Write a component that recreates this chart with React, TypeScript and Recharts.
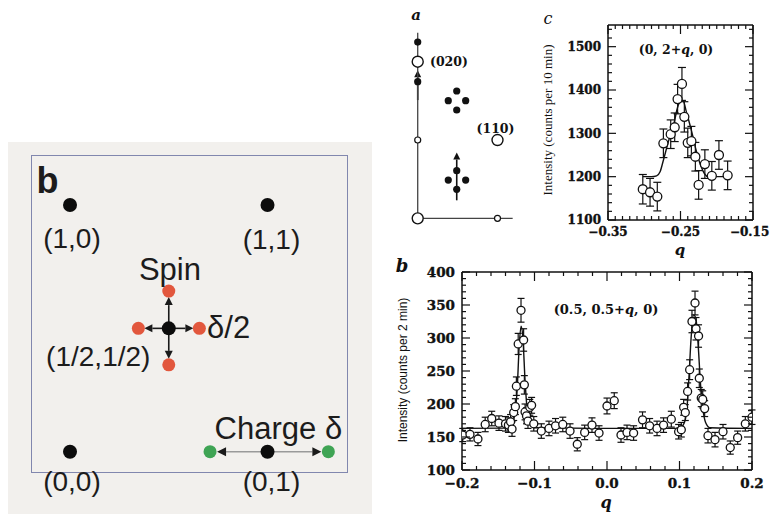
import React from "react";
import {
  ComposedChart,
  ScatterChart,
  Scatter,
  Line,
  XAxis,
  YAxis,
  ErrorBar,
  ReferenceLine,
} from "recharts";

// ---------- scan (0.5, 0.5+q, 0): counts per 2 min ----------
const bQ = [
  -0.199, -0.189, -0.178, -0.168, -0.159, -0.149, -0.14, -0.136, -0.133, -0.131, -0.1287, -0.1264,
  -0.125, -0.1225, -0.1186, -0.115, -0.114, -0.113, -0.111, -0.109, -0.1065, -0.104, -0.101, -0.0906,
  -0.08, -0.071, -0.061, -0.051, -0.041, -0.0308, -0.0207, -0.011, 0.0, 0.01, 0.0193, 0.0276, 0.0367,
  0.049, 0.0588, 0.069, 0.078, 0.0887, 0.0988, 0.1025, 0.1057, 0.108, 0.1112, 0.114, 0.1172, 0.1214,
  0.1228, 0.1263, 0.1273, 0.13, 0.132, 0.1347, 0.1393, 0.149, 0.16, 0.17, 0.1802, 0.1908, 0.2,
];
const bCounts = [
  153, 154, 147, 169, 178, 171, 170, 168, 173, 162, 187, 196, 227, 291, 342, 297, 229, 188, 182, 174,
  195, 198, 170, 159, 163, 167, 169, 159, 139, 157, 168, 156, 197, 205, 153, 157, 156, 176, 167, 163,
  168, 177, 158, 161, 195, 187, 219, 252, 325, 353, 314, 303, 239, 209, 207, 193, 152, 146, 158, 134,
  149, 170, 180,
];
const bErr = [
  10, 10, 10, 11, 11, 11, 11, 11, 11, 11, 12, 12, 14, 16, 18, 17, 14, 12, 12, 11, 12, 12, 11, 11, 11,
  11, 11, 11, 10, 11, 11, 11, 12, 12, 11, 11, 11, 12, 11, 11, 11, 12, 11, 11, 12, 12, 13, 15, 17, 18,
  17, 17, 14, 13, 13, 12, 11, 11, 11, 10, 10, 11, 11,
];
const bFitQ = [
  -0.2, -0.14, -0.133, -0.128, -0.124, -0.121, -0.1185, -0.116, -0.113, -0.11, -0.106, -0.1, 0, 0.1,
  0.106, 0.11, 0.113, 0.116, 0.1195, 0.1225, 0.126, 0.129, 0.132, 0.136, 0.142, 0.2,
];
const bFitCounts = [
  163, 163.5, 166, 180, 220, 290, 318, 300, 235, 190, 170, 164, 163, 163, 170, 190, 240, 300, 335, 330,
  285, 230, 195, 172, 164, 163,
];
const bXMajor = [-0.2, -0.1, 0, 0.1, 0.2];
const bXLabels = ["−0.2", "−0.1", "0.0", "0.1", "0.2"];
const bYMajor = [100, 150, 200, 250, 300, 350, 400];
const bYLabels = ["100", "150", "200", "250", "300", "350", "400"];

// ---------- scan (0, 2+q, 0): counts per 10 min ----------
const cQ = [
  -0.302, -0.292, -0.282, -0.2736, -0.2635, -0.258, -0.254, -0.248, -0.2447, -0.24, -0.235, -0.2295,
  -0.225, -0.2164, -0.2068, -0.197, -0.185,
];
const cCounts = [1171, 1164, 1154, 1277, 1298, 1314, 1379, 1414, 1338, 1278, 1282, 1246, 1181, 1229, 1202, 1250, 1203];
const cErr = [34, 32, 33, 33, 33, 33, 34, 38, 35, 34, 34, 33, 33, 33, 33, 33, 33];
const cFitQ = [
  -0.302, -0.29, -0.283, -0.278, -0.2736, -0.266, -0.259, -0.254, -0.249, -0.246, -0.242, -0.2347,
  -0.228, -0.222, -0.217, -0.212, -0.185,
];
const cFitCounts = [1200, 1200, 1202, 1212, 1238, 1285, 1323, 1360, 1376, 1374, 1350, 1305, 1258, 1225, 1207, 1200, 1200];
const cXMajor = [-0.35, -0.25, -0.15];
const cXLabels = ["−0.35", "−0.25", "−0.15"];
const cYMajor = [1100, 1200, 1300, 1400, 1500];
const cYLabels = ["1100", "1200", "1300", "1400", "1500"];

// ---------- reciprocal-space sketch (h to the right, k upward) ----------
const aAxisH = [0, 0, 1.19];
const aAxisK = [2.37, 0, 0];
const aBraggH = [0, 0, 1];
const aBraggK = [0, 2, 1];
const aSmallH = [0, 1];
const aSmallK = [1, 0];
const aSpotH = [0, 0, 0.489, 0.383, 0.601, 0.489, 0.489, 0.383, 0.601, 0.489];
const aSpotK = [2.25, 1.745, 1.626, 1.502, 1.502, 1.383, 0.608, 0.489, 0.489, 0.37];
const aArrows = [
  [0, 1.51, 0, 1.89],
  [0.489, 0.23, 0.489, 0.84],
];
const aNoteText = ["a", "(020)", "(110)"];
const aNoteH = [-0.02, 0.154, 0.975];
const aNoteK = [2.596, 2.0, 1.153];

// ---------- spin / charge superlattice sketch ----------
const latX = [0, 1, 0.5, 0, 1];
const latY = [1, 1, 0.5, 0, 0];
const spinX = [0.5, 0.5, 0.346, 0.655];
const spinY = [0.651, 0.352, 0.5, 0.5];
const chargeX = [0.709, 1.308];
const chargeY = [0, 0];
const noteText = ["b", "(1,0)", "(1,1)", "Spin", "δ/2", "(1/2,1/2)", "Charge δ", "(0,0)", "(0,1)"];
const noteX = [-0.114, 0.01, 1.02, 0.506, 0.694, 0.143, 1.055, 0.01, 1.02];
const noteY = [1.101, 0.866, 0.86, 0.737, 0.503, 0.385, 0.095, -0.122, -0.122];

const steps = (from: number, to: number, step: number) => {
  const out: number[] = [];
  const n = Math.round((to - from) / step);
  for (let i = 0; i <= n; i++) out.push(+(from + i * step).toFixed(4));
  return out;
};

const SERIF = '"DejaVu Serif", "Liberation Serif", serif';
const SANS = '"Liberation Sans", Arial, sans-serif';
const INK = "#111";
const AXIS_LINE = { stroke: INK, strokeWidth: 1.5 };

type Side = "bottom" | "top" | "left" | "right";

// tick drawn inward from the frame, label outside (bottom / left only);
// bottom labels are nudged left so they never run past maxX
function makeTick(
  side: Side,
  majors: number[],
  labels: string[] | null,
  majorLen: number,
  minorLen: number,
  fontSize: number,
  maxX = Infinity
) {
  return (props: any) => {
    const { x, y, payload } = props;
    const v = payload?.value as number;
    const idx = majors.findIndex((m) => Math.abs(m - v) < 1e-6);
    const len = idx >= 0 ? majorLen : minorLen;
    const x2 = side === "left" ? x + len : side === "right" ? x - len : x;
    const y2 = side === "bottom" ? y - len : side === "top" ? y + len : y;
    let label = null;
    if (labels && idx >= 0) {
      const style = { fontFamily: SERIF, fontWeight: 700, fontSize };
      if (side === "bottom") {
        const half = labels[idx].length * fontSize * 0.34;
        const lx = Math.min(x, maxX - half);
        label = (
          <text x={lx} y={y + fontSize + 4} textAnchor="middle" fill={INK} stroke={INK} strokeWidth={0.35} style={style}>
            {labels[idx]}
          </text>
        );
      }
      if (side === "left")
        label = (
          <text x={x - 7} y={y + fontSize * 0.36} textAnchor="end" fill={INK} stroke={INK} strokeWidth={0.35} style={style}>
            {labels[idx]}
          </text>
        );
    }
    return (
      <g>
        <line x1={x} y1={y} x2={x2} y2={y2} stroke={INK} strokeWidth={1.2} />
        {label}
      </g>
    );
  };
}

type Box = { top: number; right: number; bottom: number; left: number };

type ScanProps = {
  left: number;
  top: number;
  width: number;
  height: number;
  plot: Box; // distance from the chart edges to the frame
  xDomain: [number, number];
  yDomain: [number, number];
  xTicks: number[];
  yTicks: number[];
  xMajor: number[];
  xLabels: string[];
  yMajor: number[];
  yLabels: string[];
  points: { q: number; v: number; err: number }[];
  fit: { q: number; v: number }[];
  r: number;
  cap: number;
  font: number;
};

const AX_B = 30;
const AX_L = 60;
const AX_T = 6;
const AX_R = 6;

function ScanPanel(p: ScanProps) {
  const margin = {
    top: p.plot.top - AX_T,
    right: p.plot.right - AX_R,
    bottom: p.plot.bottom - AX_B,
    left: p.plot.left - AX_L,
  };
  const common = {
    type: "number" as const,
    allowDataOverflow: true,
    interval: 0 as const,
    tickSize: 0,
    tickMargin: 0,
    axisLine: AXIS_LINE,
    tickLine: false,
  };
  return (
    <div style={{ position: "absolute", left: p.left, top: p.top }}>
      <ComposedChart width={p.width} height={p.height} margin={margin}>
        <XAxis
          {...common}
          xAxisId="bottom"
          dataKey="q"
          domain={p.xDomain}
          ticks={p.xTicks}
          height={AX_B}
          tick={makeTick("bottom", p.xMajor, p.xLabels, 9, 4, p.font, p.width - 1)}
        />
        <XAxis
          {...common}
          xAxisId="top"
          orientation="top"
          dataKey="q"
          domain={p.xDomain}
          ticks={p.xTicks}
          height={AX_T}
          tick={makeTick("top", p.xMajor, null, 9, 4, p.font)}
        />
        <YAxis
          {...common}
          yAxisId="left"
          dataKey="v"
          domain={p.yDomain}
          ticks={p.yTicks}
          width={AX_L}
          tick={makeTick("left", p.yMajor, p.yLabels, 8, 4, p.font)}
        />
        <YAxis
          {...common}
          yAxisId="right"
          orientation="right"
          dataKey="v"
          domain={p.yDomain}
          ticks={p.yTicks}
          width={AX_R}
          tick={makeTick("right", p.yMajor, null, 8, 4, p.font)}
        />
        <Scatter
          xAxisId="bottom"
          yAxisId="left"
          data={p.points}
          dataKey="v"
          isAnimationActive={false}
          shape={(s: any) => <circle cx={s.cx} cy={s.cy} r={p.r} fill="#fff" stroke={INK} strokeWidth={1.3} />}
        >
          <ErrorBar dataKey="err" direction="y" width={p.cap} stroke={INK} strokeWidth={1.2} />
        </Scatter>
        <Line
          xAxisId="bottom"
          yAxisId="left"
          data={p.fit}
          dataKey="v"
          type="monotone"
          dot={false}
          activeDot={false}
          stroke={INK}
          strokeWidth={1.4}
          isAnimationActive={false}
        />
      </ComposedChart>
    </div>
  );
}

// arrow drawn along a ReferenceLine segment, trimmed at both ends
const arrowShape = (lineColor: string, headColor: string, head: number, trimStart: number, trimEnd: number) => (s: any) => {
  const { x1, y1, x2, y2 } = s;
  const dx = x2 - x1;
  const dy = y2 - y1;
  const L = Math.hypot(dx, dy) || 1;
  const ux = dx / L;
  const uy = dy / L;
  const sx = x1 + ux * trimStart;
  const sy = y1 + uy * trimStart;
  const tx = x2 - ux * trimEnd;
  const ty = y2 - uy * trimEnd;
  const bx = tx - ux * head;
  const by = ty - uy * head;
  const w = head * 0.5;
  return (
    <g>
      <line x1={sx} y1={sy} x2={bx} y2={by} stroke={lineColor} strokeWidth={1.6} />
      <polygon points={`${tx},${ty} ${bx - uy * w},${by + ux * w} ${bx + uy * w},${by - ux * w}`} fill={headColor} />
    </g>
  );
};

const Txt = ({ x, y, children, style, rotate }: { x: number; y: number; children: React.ReactNode; style?: React.CSSProperties; rotate?: number }) => (
  <div
    style={{
      position: "absolute",
      left: x,
      top: y,
      transform: `translate(-50%, -50%)${rotate ? ` rotate(${rotate}deg)` : ""}`,
      whiteSpace: "nowrap",
      lineHeight: 1,
      color: INK,
      ...style,
    }}
  >
    {children}
  </div>
);

function ReciprocalSketch() {
  const axis = aAxisH.map((h, i) => ({ x: h, y: aAxisK[i] }));
  const bragg = aBraggH.map((h, i) => ({ x: h, y: aBraggK[i] }));
  const small = aSmallH.map((h, i) => ({ x: h, y: aSmallK[i] }));
  const spots = aSpotH.map((h, i) => ({ x: h, y: aSpotK[i] }));
  const notes = aNoteText.map((t, i) => ({ x: aNoteH[i], y: aNoteK[i], text: t }));
  return (
    <div style={{ position: "absolute", left: 395, top: 0 }}>
      <ScatterChart width={130} height={235} margin={{ top: 5, right: 5, bottom: 5, left: 5 }}>
        <XAxis dataKey="x" type="number" domain={[-0.222, 1.282]} hide />
        <YAxis dataKey="y" type="number" domain={[-0.149, 2.724]} hide />
        <Scatter data={axis} line={{ stroke: "#444", strokeWidth: 1.3 }} shape={() => <g />} isAnimationActive={false} />
        <Scatter data={spots} isAnimationActive={false} shape={(s: any) => <circle cx={s.cx} cy={s.cy} r={3.6} fill={INK} />} />
        <Scatter
          data={small}
          isAnimationActive={false}
          shape={(s: any) => <circle cx={s.cx} cy={s.cy} r={3} fill="#fff" stroke={INK} strokeWidth={1.2} />}
        />
        <Scatter
          data={bragg}
          isAnimationActive={false}
          shape={(s: any) => <circle cx={s.cx} cy={s.cy} r={5.5} fill="#fff" stroke={INK} strokeWidth={1.4} />}
        />
        {aArrows.map((a, i) => (
          <ReferenceLine
            key={i}
            segment={[
              { x: a[0], y: a[1] },
              { x: a[2], y: a[3] },
            ]}
            shape={arrowShape(INK, INK, 7, 0, 0)}
          />
        ))}
        <Scatter
          data={notes}
          isAnimationActive={false}
          shape={(s: any) => {
            const t = s.payload.text;
            const isTag = t === "a";
            return (
              <text
                x={s.cx}
                y={s.cy}
                dominantBaseline="central"
                textAnchor={t === "(020)" ? "start" : "middle"}
                fill={INK}
                style={{
                  fontFamily: SERIF,
                  fontWeight: 700,
                  fontStyle: isTag ? "italic" : "normal",
                  fontSize: isTag ? 15 : 12.5,
                }}
              >
                {t}
              </text>
            );
          }}
        />
      </ScatterChart>
    </div>
  );
}

function SuperlatticeSketch() {
  const lattice = latX.map((x, i) => ({ x, y: latY[i] }));
  const spin = spinX.map((x, i) => ({ x, y: spinY[i] }));
  const charge = chargeX.map((x, i) => ({ x, y: chargeY[i] }));
  const notes = noteText.map((t, i) => ({ x: noteX[i], y: noteY[i], text: t }));
  return (
    <div style={{ position: "absolute", left: 8, top: 142 }}>
      <ScatterChart width={364} height={372} margin={{ top: 0, right: 0, bottom: 0, left: 0 }}>
        <XAxis dataKey="x" type="number" domain={[-0.314, 1.529]} hide />
        <YAxis dataKey="y" type="number" domain={[-0.2525, 1.2554]} hide />
        {chargeX.map((x, i) => (
          <ReferenceLine
            key={`c${i}`}
            segment={[
              { x: 1, y: 0 },
              { x, y: chargeY[i] },
            ]}
            shape={arrowShape("#9a9a9a", "#1a1a1a", 9, 6, 7)}
          />
        ))}
        {spinX.map((x, i) => (
          <ReferenceLine
            key={`s${i}`}
            segment={[
              { x: 0.5, y: 0.5 },
              { x, y: spinY[i] },
            ]}
            shape={arrowShape("#1a1a1a", "#1a1a1a", 8, 6, 6)}
          />
        ))}
        <Scatter
          data={spin}
          isAnimationActive={false}
          shape={(s: any) => <circle cx={s.cx} cy={s.cy} r={6.5} fill="#e2573d" />}
        />
        <Scatter
          data={charge}
          isAnimationActive={false}
          shape={(s: any) => <circle cx={s.cx} cy={s.cy} r={6.5} fill="#3fa454" />}
        />
        <Scatter
          data={lattice}
          isAnimationActive={false}
          shape={(s: any) => <circle cx={s.cx} cy={s.cy} r={7} fill="#0c0c0c" />}
        />
        <Scatter
          data={notes}
          isAnimationActive={false}
          shape={(s: any) => {
            const t = s.payload.text;
            const big = t === "Spin" || t === "δ/2" || t === "Charge δ";
            const tag = t === "b";
            return (
              <text
                x={s.cx}
                y={s.cy}
                dominantBaseline="central"
                textAnchor={t === "δ/2" ? "start" : "middle"}
                fill="#1c1c1c"
                style={{ fontFamily: SANS, fontWeight: tag ? 700 : 400, fontSize: tag ? 36 : big ? 31 : 28 }}
              >
                {t}
              </text>
            );
          }}
        />
      </ScatterChart>
    </div>
  );
}

export default function App() {
  const bPoints = bQ.map((q, i) => ({ q, v: bCounts[i], err: bErr[i] }));
  const bFit = bFitQ.map((q, i) => ({ q, v: bFitCounts[i] }));
  const cPoints = cQ.map((q, i) => ({ q, v: cCounts[i], err: cErr[i] }));
  const cFit = cFitQ.map((q, i) => ({ q, v: cFitCounts[i] }));

  return (
    <div style={{ position: "absolute", left: 0, top: 0, width: 771, height: 514, background: "#fff", overflow: "hidden" }}>
      {/* left sketch: grey card with framed box */}
      <div style={{ position: "absolute", left: 8, top: 142, width: 364, height: 372, background: "#f2f0ed" }} />
      <div
        style={{
          position: "absolute",
          left: 31,
          top: 155,
          width: 317,
          height: 318,
          border: "1.5px solid #8187ae",
          boxSizing: "border-box",
        }}
      />
      <SuperlatticeSketch />

      <ReciprocalSketch />

      {/* (0, 2+q, 0) */}
      <ScanPanel
        left={530}
        top={0}
        width={241}
        height={260}
        plot={{ top: 25, right: 18, bottom: 40, left: 78 }}
        xDomain={[-0.35, -0.15]}
        yDomain={[1100, 1550]}
        xTicks={steps(-0.35, -0.15, 0.01)}
        yTicks={steps(1100, 1540, 20)}
        xMajor={cXMajor}
        xLabels={cXLabels}
        yMajor={cYMajor}
        yLabels={cYLabels}
        points={cPoints}
        fit={cFit}
        r={4.5}
        cap={4}
        font={12}
      />
      <Txt x={548} y={19} style={{ fontFamily: SERIF, fontStyle: "italic", fontSize: 16 }}>
        c
      </Txt>
      <Txt x={676} y={50} style={{ fontFamily: SERIF, fontWeight: 700, fontSize: 12.5 }}>
        (0, 2+<i>q</i>, 0)
      </Txt>
      <Txt x={680} y={250} style={{ fontFamily: SERIF, fontWeight: 700, fontStyle: "italic", fontSize: 15 }}>
        q
      </Txt>
      <Txt x={547} y={120} rotate={-90} style={{ fontFamily: '"Liberation Serif", serif', fontSize: 13 }}>
        Intensity (counts per 10 min)
      </Txt>

      {/* (0.5, 0.5+q, 0) */}
      <ScanPanel
        left={380}
        top={255}
        width={391}
        height={259}
        plot={{ top: 17, right: 19, bottom: 44, left: 82 }}
        xDomain={[-0.2, 0.2]}
        yDomain={[100, 400]}
        xTicks={steps(-0.2, 0.2, 0.02)}
        yTicks={steps(100, 400, 10)}
        xMajor={bXMajor}
        xLabels={bXLabels}
        yMajor={bYMajor}
        yLabels={bYLabels}
        points={bPoints}
        fit={bFit}
        r={4}
        cap={3.5}
        font={13.5}
      />
      <Txt x={402} y={266} style={{ fontFamily: SERIF, fontWeight: 700, fontStyle: "italic", fontSize: 18 }}>
        b
      </Txt>
      <Txt x={606} y={309} style={{ fontFamily: SERIF, fontWeight: 700, fontSize: 13 }}>
        (0.5, 0.5+<i>q</i>, 0)
      </Txt>
      <Txt x={606} y={503} style={{ fontFamily: SERIF, fontWeight: 700, fontStyle: "italic", fontSize: 16 }}>
        q
      </Txt>
      <Txt x={403} y={370} rotate={-90} style={{ fontFamily: SANS, fontSize: 12 }}>
        Intensity (counts per 2 min)
      </Txt>
    </div>
  );
}
